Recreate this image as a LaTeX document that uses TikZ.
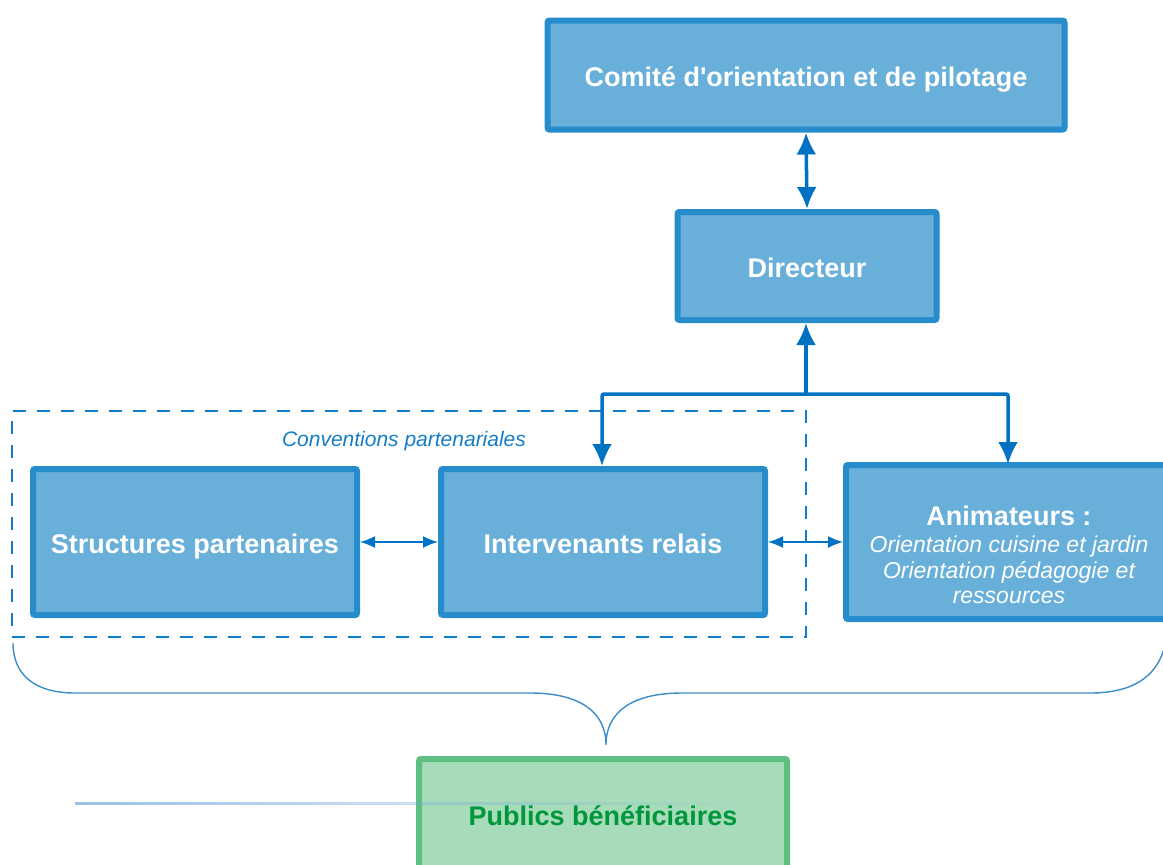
\documentclass[tikz,border=0pt]{standalone}
\usepackage{fontspec}
\setmainfont{Liberation Sans}
\newfontfamily\plainsans{Liberation Sans}
\usetikzlibrary{arrows.meta,fadings}
\definecolor{boxfill}{RGB}{104,175,217}
\definecolor{boxdraw}{RGB}{38,140,204}
\definecolor{arrowblue}{RGB}{0,114,195}
\definecolor{dashblue}{RGB}{20,125,200}
\definecolor{bracecol}{RGB}{60,140,200}
\definecolor{gfill}{RGB}{167,220,187}
\definecolor{gdraw}{RGB}{95,190,130}
\definecolor{gtext}{RGB}{0,150,60}
\definecolor{fadeline}{RGB}{110,165,220}
\tikzset{
  bluebox/.style={draw=boxdraw, fill=boxfill, line width=6pt, rounded corners=2pt,
    text=white, font=\fontsize{27}{30}\selectfont\bfseries, align=center, inner sep=0pt,
    text height=26pt, text depth=4pt},
  greenbox/.style={draw=gdraw, fill=gfill, line width=6pt, rounded corners=2pt,
    text=gtext, font=\fontsize{27}{30}\selectfont\bfseries, align=center, inner sep=0pt,
    text height=26pt, text depth=4pt},
  animtextstyle/.style={text=white, font=\fontsize{27}{25.5}\selectfont\bfseries, align=center, inner sep=0pt},
  bigarrow/.style={draw=arrowblue, line width=3.5pt, rounded corners=2pt,
    -{Latex[length=22pt,width=20pt]}},
  bigboth/.style={draw=arrowblue, line width=3.5pt,
    {Latex[length=22pt,width=20pt]}-{Latex[length=22pt,width=20pt]}},
  thinboth/.style={draw=arrowblue, line width=1.5pt,
    {Latex[length=15pt,width=12pt]}-{Latex[length=15pt,width=12pt]}},
  convbox/.style={draw=dashblue, line width=1.3pt, dash pattern=on 13pt off 11pt, inner sep=0pt},
  bracestyle/.style={draw=bracecol, line width=1.4pt},
}
\newcommand{\subit}{\fontsize{23}{25.5}\selectfont\mdseries\itshape}
\begin{document}
\begin{tikzpicture}[x=1pt,y=-1pt]
\useasboundingbox (0,0) rectangle (1163,865);

\node[convbox, minimum width=794pt, minimum height=226pt] (conv) at (409,524) {};
\node[text=dashblue, font=\fontsize{21}{24}\selectfont\itshape] (convlabel) at (404,441) {Conventions partenariales};

\node[bluebox, minimum width=517pt, minimum height=109pt] (comite) at (806,75) {\plainsans\bfseries Comité d'orientation et de pilotage};
\node[bluebox, minimum width=259pt, minimum height=108pt] (dir) at (807,266) {Directeur};
\node[bluebox, minimum width=324pt, minimum height=146pt] (struct) at (195,542) {Structures partenaires};
\node[bluebox, minimum width=324pt, minimum height=146pt] (inter) at (603,542) {Intervenants relais};
\node[bluebox, minimum width=324pt, minimum height=154pt] (anim) at (1008,542) {};
\node[animtextstyle] (animtext) at (1009,555)
  {Animateurs :\\[2pt]\subit Orientation cuisine et jardin\\\subit Orientation pédagogie et\\\subit ressources};
\node[greenbox, minimum width=368pt, minimum height=110pt] (pub) at (603,814) {Publics bénéficiaires};

\draw[bigboth] (comite.south) -- (dir.north);
\coordinate (j) at (806,394);
\draw[bigarrow] (j) -- (806,323);
\draw[bigarrow] (j) -| (602,466);
\draw[bigarrow] (j) -| (1008,464);
\draw[thinboth] (struct.east) -- (inter.west);
\draw[thinboth] (inter.east) -- (anim.west);

\draw[bracestyle] (13,643) .. controls (13,675) and (35,693) .. (75,693) -- (530,693)
  .. controls (580,693) and (606,712) .. (606,745)
  .. controls (606,712) and (632,693) .. (682,693) -- (1090,693)
  .. controls (1135,693) and (1160,675) .. (1166,640);

\fill[fadeline, path fading=east, fill opacity=0.7] (75,801.5) rectangle (760,805);
\end{tikzpicture}
\end{document}
